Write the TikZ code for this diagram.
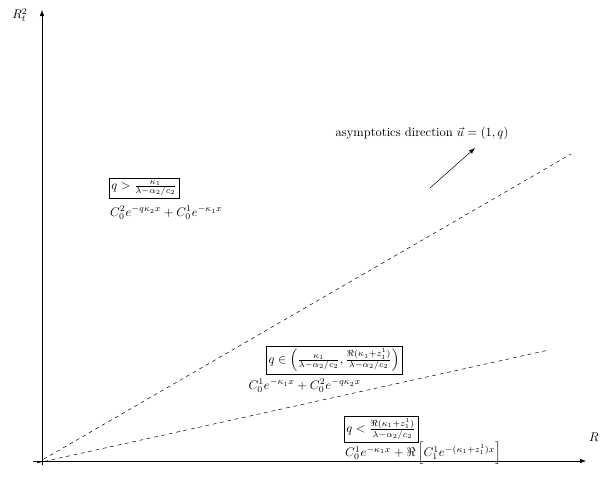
\documentclass[tikz,border=0pt]{standalone}
\usepackage{amsmath,amssymb}
\usepackage{tikz}
\usetikzlibrary{arrows.meta, positioning}
\tikzset{
    axis/.style={-Latex, thin, color=black},
    bound/.style={dashed, thin},
    cond/.style={rectangle, draw=black, thin, inner sep=2pt},
    sol/.style={inner sep=1pt},
    dirarrow/.style={-Latex, thin}
}

\begin{document}
\begin{tikzpicture}[x=0.8pt, y=-0.8pt]
    \useasboundingbox (0,0) rectangle (600,497);
    % Axes
    \coordinate (origin) at (42,461);
    \coordinate (xend) at (586,461);
    \coordinate (yend) at (42,10);
    \coordinate (xstart) at (33,461);
    \coordinate (ystart) at (42,465);
    \draw [axis] (xstart) -- (xend);
    \draw [axis] (ystart) -- (yend);
    \node (ylab) at (20,15) {$R_t^2$};
    \node (xlab) at (594,437) {$R$};

    % Boundaries
    \coordinate (dstart) at (37,463);
    \coordinate (dup) at (571,154);
    \coordinate (dlow) at (549,350);
    \draw [bound] (dstart) -- (dup);
    \draw [bound] (dstart) -- (dlow);

    % Direction
    \node (dirtext) at (422,133) {asymptotics direction $\vec{u}=(1,q)$};
    \coordinate (dirA) at (430,188);
    \coordinate (dirB) at (475,148);
    \draw [dirarrow] (dirA) -- (dirB);

    % Regions
    \node [cond] (upper) at (144,188) {$q>\frac{\kappa_1}{\lambda-\alpha_2/c_2}$};
    \node [sol, anchor=north west, yshift=-5pt] (uppersol) at (upper.south west) {$C_0^2e^{-q\kappa_2x}+C_0^1e^{-\kappa_1x}$};

    \node [cond] (middle) at (334,360) {$q\in\left(\frac{\kappa_1}{\lambda-\alpha_2/c_2},\frac{\Re(\kappa_1+z_1^1)}{\lambda-\alpha_2/c_2}\right)$};
    \node [sol, anchor=north west, xshift=-15pt, yshift=-3pt] (middlesol) at (middle.south west) {$C_0^1e^{-\kappa_1x}+C_0^2e^{-q\kappa_2x}$};

    \node [cond] (lower) at (381,429) {$q<\frac{\Re(\kappa_1+z_1^1)}{\lambda-\alpha_2/c_2}$};
    \node [sol, anchor=north west, yshift=1pt] (lowersol) at (lower.south west) {$C_0^1e^{-\kappa_1x}+\Re\left[C_1^1e^{-(\kappa_1+z_1^1)x}\right]$};
\end{tikzpicture}
\end{document}
